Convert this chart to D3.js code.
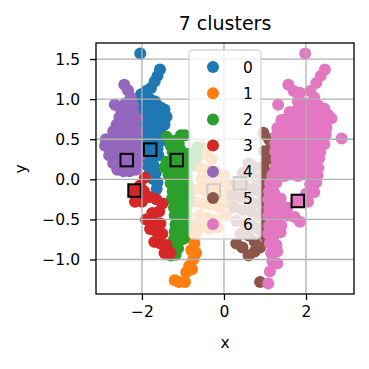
<!DOCTYPE html>
<html>
<head>
  <meta charset="utf-8">
  <title>7 clusters</title>
  <script src="https://d3js.org/d3.v7.min.js"></script>
  <style>
    body { margin: 0; background: #fff; }
    svg { display: block; font-family: "DejaVu Sans", sans-serif; }
  </style>
</head>
<body>
  <svg width="369" height="369"></svg>

  <script>
    // cluster labels and colours (tab10)
    const labels = ["0", "1", "2", "3", "4", "5", "6"];
    const colors = ["#1f77b4", "#ff7f0e", "#2ca02c", "#d62728", "#9467bd", "#8c564b", "#e377c2"];

    // points, one array per cluster
    const cluster0 = [[-2.04,1.57],[-1.56,1.37],[-1.62,1.29],[-1.69,1.22],[-1.78,1.14],[-1.90,1.10],[-2.02,1.06],
      [-2.10,1.00],[-1.95,0.98],[-1.80,1.00],[-1.68,0.97],[-2.15,0.90],[-2.00,0.88],[-1.85,0.90],[-1.70,0.88],[-1.55,0.90],[-1.45,0.87],
      [-2.05,0.80],[-1.90,0.78],[-1.75,0.80],[-1.60,0.80],[-1.40,0.78],[-2.10,0.70],[-1.95,0.70],[-1.80,0.68],[-1.65,0.70],[-1.45,0.68],
      [-2.00,0.60],[-1.85,0.58],[-1.70,0.60],[-1.55,0.58],[-1.95,0.50],[-1.80,0.48],[-1.65,0.50],[-1.52,0.48],
      [-1.95,0.40],[-1.80,0.38],[-1.62,0.38],[-1.92,0.28],[-1.75,0.27],[-1.60,0.30],[-1.88,0.18],[-1.72,0.18],
      [-1.80,0.10],[-1.66,0.08],[-1.72,0.00],[-1.62,-0.04],[-1.64,-0.12]];
    const cluster1 = [[-0.55,0.40],[-0.45,0.32],[-0.30,0.25],[-0.60,0.15],[-0.40,0.12],[-0.20,0.10],[0.00,0.05],
      [-0.55,0.00],[-0.35,-0.02],[-0.15,-0.05],[0.10,-0.08],[-0.65,-0.12],[-0.45,-0.15],[-0.25,-0.18],[-0.05,-0.20],[0.20,-0.15],
      [-0.70,-0.28],[-0.50,-0.30],[-0.30,-0.32],[-0.10,-0.35],[0.15,-0.30],[-0.60,-0.45],[-0.40,-0.48],[-0.20,-0.50],[0.05,-0.45],
      [-0.55,-0.60],[-0.35,-0.62],[-0.15,-0.60],[-0.70,-0.55],[-0.80,-0.62],[-0.68,-0.68],[-0.85,-0.72],[-0.72,-0.80],
      [-0.80,-0.88],[-0.68,-0.92],[-0.75,-1.00],[-0.85,-1.08],[-0.78,-1.12],[-0.92,-1.16],[-0.95,-1.28],[-1.10,-1.28],[-1.20,-1.26]];
    const cluster2 = [[-1.40,0.53],[-1.05,0.55],[-0.95,0.55],[-1.20,0.48],[-1.30,0.42],[-1.10,0.44],
      [-1.25,0.34],[-1.05,0.36],[-0.85,0.32],[-0.65,0.40],[-1.40,0.22],[-1.25,0.25],[-1.00,0.24],[-0.80,0.25],[-0.65,0.28],
      [-1.45,0.15],[-1.30,0.14],[-1.15,0.15],[-0.95,0.14],[-0.82,0.16],[-1.35,0.05],[-1.20,0.04],[-1.05,0.06],[-0.90,0.04],
      [-1.30,-0.05],[-1.15,-0.06],[-1.00,-0.04],[-0.88,-0.06],[-1.25,-0.15],[-1.10,-0.16],[-0.95,-0.14],[-0.85,-0.18],
      [-1.28,-0.25],[-1.12,-0.26],[-0.98,-0.25],[-0.86,-0.27],[-1.22,-0.35],[-1.08,-0.36],[-0.92,-0.36],
      [-1.20,-0.45],[-1.05,-0.46],[-0.90,-0.44],[-1.18,-0.56],[-1.05,-0.55],[-0.92,-0.54],
      [-1.20,-0.65],[-1.08,-0.66],[-0.95,-0.64],[-1.22,-0.75],[-1.08,-0.76],[-0.98,-0.74],
      [-1.25,-0.85],[-1.12,-0.86],[-1.30,-0.95],[-1.18,-0.94]];
    const cluster3 = [[-1.93,0.02],[-2.05,-0.08],[-2.12,-0.18],[-1.95,-0.15],[-2.17,-0.28],[-2.00,-0.28],[-1.82,-0.22],
      [-1.65,-0.25],[-1.50,-0.30],[-1.58,-0.40],[-1.75,-0.42],[-1.90,-0.50],[-1.70,-0.53],[-1.55,-0.55],[-1.80,-0.62],
      [-1.65,-0.65],[-1.50,-0.68],[-1.70,-0.78],[-1.55,-0.80],[-1.40,-0.82],[-1.30,-0.92],[-1.45,-0.92]];
    const cluster4 = [[-2.43,1.18],[-2.34,1.11],[-2.27,1.02],[-2.66,0.93],[-2.40,0.95],[-2.22,0.93],
      [-2.50,0.85],[-2.35,0.86],[-2.20,0.84],[-2.55,0.77],[-2.40,0.76],[-2.25,0.78],[-2.12,0.76],
      [-2.62,0.68],[-2.48,0.68],[-2.33,0.67],[-2.18,0.68],[-2.70,0.60],[-2.55,0.58],[-2.40,0.60],[-2.25,0.58],[-2.12,0.60],
      [-2.88,0.50],[-2.75,0.50],[-2.60,0.48],[-2.45,0.50],[-2.30,0.49],[-2.15,0.48],
      [-2.90,0.42],[-2.75,0.40],[-2.60,0.40],[-2.45,0.38],[-2.30,0.40],[-2.15,0.40],[-2.05,0.38],
      [-2.80,0.30],[-2.65,0.30],[-2.50,0.28],[-2.35,0.30],[-2.20,0.28],[-2.05,0.30],
      [-2.70,0.20],[-2.55,0.20],[-2.40,0.18],[-2.25,0.20],[-2.10,0.20],[-2.60,0.12],[-2.45,0.10],[-2.30,0.10],[-2.15,0.12]];
    const cluster5 = [[0.96,0.58],[1.10,0.50],[1.16,0.42],[0.98,0.35],[1.05,0.25],[0.96,0.16],[1.05,0.08],[0.92,0.02],
      [1.02,-0.08],[0.95,-0.20],[1.05,-0.30],[0.95,-0.42],[1.02,-0.55],[0.95,-0.68],[1.05,-0.75],[0.88,-0.85],
      [0.75,-0.90],[0.60,-0.95],[0.45,-0.85],[0.30,-0.80],[0.88,-1.28],
      [0.60,0.20],[0.75,0.15],[0.45,0.08],[0.65,0.05],[0.80,0.00],[0.30,-0.05],[0.50,-0.08],[0.70,-0.12],[0.85,-0.15],
      [0.20,-0.20],[0.40,-0.22],[0.60,-0.25],[0.80,-0.30],[0.25,-0.35],[0.45,-0.38],[0.65,-0.40],[0.85,-0.45],
      [0.30,-0.52],[0.50,-0.55],[0.70,-0.58],[0.85,-0.62],[0.40,-0.68],[0.60,-0.70],[0.75,-0.78]];
    const cluster6 = [[1.98,1.57],[2.46,1.37],[2.36,1.29],[2.25,1.20],[1.57,1.18],[1.70,1.10],[1.85,1.08],[2.10,1.10],[2.20,1.02],
      [1.32,0.93],[1.80,0.97],[1.95,0.95],[2.10,0.94],[2.30,0.92],[2.45,0.88],
      [1.60,0.84],[1.75,0.85],[1.90,0.86],[2.05,0.84],[2.20,0.85],[2.35,0.83],[2.55,0.80],
      [1.40,0.74],[1.55,0.76],[1.70,0.74],[1.85,0.76],[2.00,0.74],[2.15,0.76],[2.30,0.74],[2.45,0.75],[2.62,0.76],
      [1.30,0.64],[1.45,0.66],[1.60,0.64],[1.75,0.66],[1.90,0.64],[2.05,0.66],[2.20,0.64],[2.35,0.66],[2.50,0.64],
      [1.28,0.55],[1.42,0.54],[1.58,0.56],[1.72,0.54],[1.88,0.56],[2.02,0.54],[2.18,0.56],[2.32,0.54],[2.48,0.56],[2.87,0.51],
      [1.25,0.45],[1.40,0.46],[1.55,0.44],[1.70,0.46],[1.85,0.44],[2.00,0.46],[2.15,0.44],[2.30,0.46],[2.45,0.44],
      [1.25,0.35],[1.40,0.34],[1.55,0.36],[1.70,0.34],[1.85,0.36],[2.00,0.34],[2.15,0.36],[2.35,0.34],
      [1.28,0.25],[1.42,0.26],[1.58,0.24],[1.72,0.26],[1.88,0.24],[2.02,0.26],[2.18,0.24],[2.32,0.26],
      [1.25,0.15],[1.40,0.14],[1.55,0.16],[1.70,0.14],[1.85,0.16],[2.00,0.14],[2.15,0.16],[2.30,0.14],
      [1.18,0.05],[1.32,0.06],[1.48,0.04],[1.65,0.06],[1.80,0.04],[1.95,0.06],[2.10,0.04],[2.28,0.05],
      [1.12,-0.05],[1.28,-0.04],[2.10,-0.06],[2.25,-0.04],[1.10,-0.15],[1.22,-0.16],[2.00,-0.18],[2.20,-0.16],
      [1.08,-0.25],[1.22,-0.26],[1.38,-0.24],[2.05,-0.28],[1.10,-0.35],[1.25,-0.36],[1.40,-0.34],[1.55,-0.35],
      [1.08,-0.45],[1.22,-0.46],[1.38,-0.44],[1.55,-0.45],[1.72,-0.47],[1.85,-0.53],
      [1.10,-0.58],[1.25,-0.56],[1.40,-0.58],[1.08,-0.68],[1.22,-0.70],[1.38,-0.66],
      [1.12,-0.80],[1.28,-0.82],[1.15,-0.92],[1.30,-0.90],[1.18,-1.02],[1.30,-1.05],[1.12,-1.15],[1.08,-1.30]];
    const clusters = [cluster0, cluster1, cluster2, cluster3, cluster4, cluster5, cluster6];

    // cluster centres (squares)
    const centerX = [-1.80, -0.25, -1.15, -2.18, -2.37, 0.39, 1.80];
    const centerY = [0.37, -0.14, 0.24, -0.14, 0.24, -0.05, -0.27];

    // ticks
    const xTicks = [-2, 0, 2];
    const yTicks = [-1.0, -0.5, 0.0, 0.5, 1.0, 1.5];

    const svg = d3.select("svg");
    const mLeft = 96, mRight = 354, mTop = 43, mBottom = 294;

    const x = d3.scaleLinear().domain([-3.12, 3.17]).range([mLeft, mRight]);
    const y = d3.scaleLinear().domain([-1.43, 1.70]).range([mBottom, mTop]);

    // clip to plot area
    svg.append("defs").append("clipPath").attr("id", "plot")
      .append("rect").attr("x", mLeft).attr("y", mTop)
      .attr("width", mRight - mLeft).attr("height", mBottom - mTop);

    const plot = svg.append("g").attr("clip-path", "url(#plot)");

    // points
    clusters.forEach((pts, i) => {
      plot.append("g").selectAll("circle")
        .data(pts)
        .join("circle")
        .attr("cx", d => x(d[0]))
        .attr("cy", d => y(d[1]))
        .attr("r", 6)
        .attr("fill", colors[i]);
    });

    // centres
    const sq = 12.5;
    plot.append("g").selectAll("rect")
      .data(centerX.map((cx, i) => [cx, centerY[i], i]))
      .join("rect")
      .attr("x", d => x(d[0]) - sq / 2)
      .attr("y", d => y(d[1]) - sq / 2)
      .attr("width", sq)
      .attr("height", sq)
      .attr("fill", d => colors[d[2]])
      .attr("stroke", "#000")
      .attr("stroke-width", 2);

    // grid sits above the scatter, like matplotlib
    const grid = svg.append("g").attr("stroke", "#b0b0b0").attr("stroke-width", 1.3);
    grid.selectAll(".gx").data(xTicks).join("line")
      .attr("x1", d => x(d)).attr("x2", d => x(d))
      .attr("y1", mTop).attr("y2", mBottom);
    grid.selectAll(".gy").data(yTicks).join("line")
      .attr("x1", mLeft).attr("x2", mRight)
      .attr("y1", d => y(d)).attr("y2", d => y(d));

    // axes
    const xAxis = svg.append("g")
      .attr("transform", `translate(0,${mBottom})`)
      .call(d3.axisBottom(x).tickValues(xTicks).tickSize(6).tickPadding(6).tickFormat(d3.format("d")));
    const yAxis = svg.append("g")
      .attr("transform", `translate(${mLeft},0)`)
      .call(d3.axisLeft(y).tickValues(yTicks).tickSize(6).tickPadding(10).tickFormat(d3.format(".1f")));

    [xAxis, yAxis].forEach(a => {
      a.select(".domain").remove();
      a.selectAll("line").attr("stroke", "#000").attr("stroke-width", 1.3);
      a.selectAll("text").attr("fill", "#000")
        .style("font-size", "15.5px").style("font-family", "DejaVu Sans");
    });

    // spines
    svg.append("rect")
      .attr("x", mLeft).attr("y", mTop)
      .attr("width", mRight - mLeft).attr("height", mBottom - mTop)
      .attr("fill", "none").attr("stroke", "#000").attr("stroke-width", 1.3);

    // title and axis labels
    svg.append("text").attr("x", (mLeft + mRight) / 2).attr("y", 30)
      .attr("text-anchor", "middle").style("font-size", "19px").text("7 clusters");
    svg.append("text").attr("x", (mLeft + mRight) / 2).attr("y", 348)
      .attr("text-anchor", "middle").style("font-size", "15.5px").text("x");
    svg.append("text").attr("transform", "translate(26,169) rotate(-90)")
      .attr("text-anchor", "middle").style("font-size", "15.5px").text("y");

    // legend
    const lg = svg.append("g");
    lg.append("rect")
      .attr("x", 189).attr("y", 50).attr("width", 72).attr("height", 189).attr("rx", 4)
      .attr("fill", "#fff").attr("fill-opacity", 0.8)
      .attr("stroke", "#ccc").attr("stroke-opacity", 0.8).attr("stroke-width", 1.3);
    const row = lg.selectAll(".row").data(labels).join("g")
      .attr("transform", (d, i) => `translate(0,${67 + i * 26.2})`);
    row.append("circle").attr("cx", 213).attr("cy", 0).attr("r", 6)
      .attr("fill", (d, i) => colors[i]);
    row.append("text").attr("x", 243).attr("y", 5.5)
      .style("font-size", "15.5px").text(d => d);
  </script>
</body>
</html>
